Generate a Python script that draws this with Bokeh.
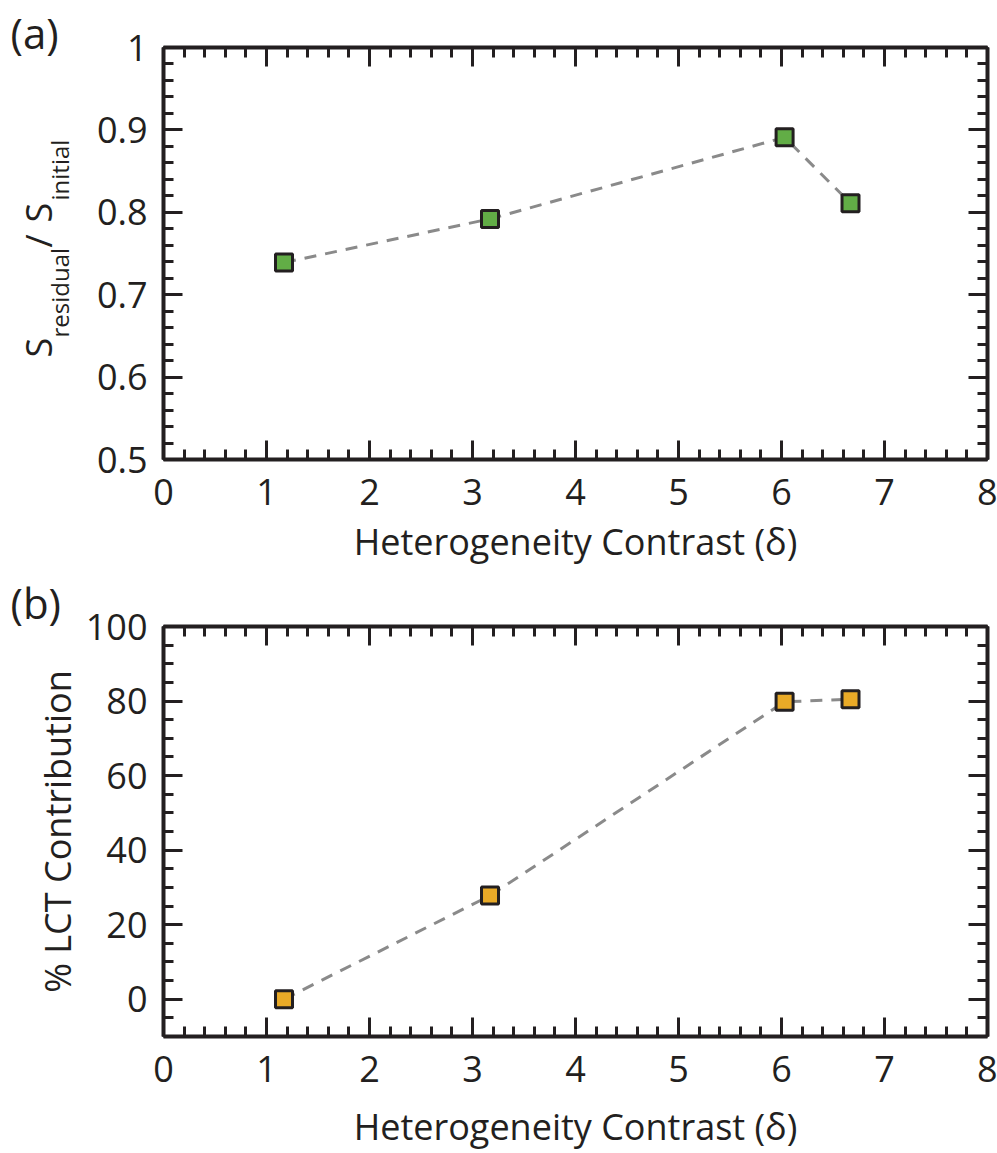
import numpy as np
from bokeh.plotting import figure
from bokeh.layouts import column, row
from bokeh.models import FixedTicker, LinearAxis, Range1d, Label, CustomJSTickFormatter
from bokeh.embed import file_html
from bokeh.resources import INLINE

# ---- data ----
delta = [1.17, 3.17, 6.03, 6.67]
s_ratio = [0.739, 0.792, 0.891, 0.811]
lct_pct = [0.0, 27.8, 79.8, 80.5]

x_major = [0, 1, 2, 3, 4, 5, 6, 7, 8]
a_y_major = [0.5, 0.6, 0.7, 0.8, 0.9, 1.0]
b_y_major = [0, 20, 40, 60, 80, 100]
x_label = "Heterogeneity Contrast (\u03b4)"
b_y_label = "% LCT Contribution"

FONT = "Open Sans"
INK = "#231f20"
GREEN = "#62ad46"
ORANGE = "#e9aa27"
DASH = "#8a8a8a"
TICK_FS = "36px"

STRIP_W = 82
MAIN_W = 997 - STRIP_W
LEFT_B = 163 - STRIP_W

x_minor = [round(v, 2) for v in np.arange(0, 8.001, 0.2)]
a_y_minor = [round(v, 3) for v in np.arange(0.5, 1.0001, 0.02)]
b_y_minor = [float(v) for v in np.arange(-10, 100.001, 5)]


def style(ax, show_labels=True):
    ax.axis_line_width = 4
    ax.axis_line_color = INK
    ax.major_tick_line_width = 3
    ax.minor_tick_line_width = 3
    ax.major_tick_line_color = INK
    ax.minor_tick_line_color = INK
    ax.major_tick_in = 19
    ax.major_tick_out = 0
    ax.minor_tick_in = 10
    ax.minor_tick_out = 0
    ax.major_label_text_font = FONT
    ax.major_label_text_color = INK
    ax.axis_label_text_font = FONT
    ax.axis_label_text_font_style = "normal"
    ax.axis_label_text_color = INK
    ax.axis_label_text_font_size = TICK_FS
    if show_labels:
        ax.major_label_text_font_size = TICK_FS
    else:
        ax.major_label_text_font_size = "1px"
        ax.major_label_standoff = 0
        ax.formatter = CustomJSTickFormatter(code="return ''")


def make_panel(yr, ymaj, ymin, height, top, ys, fill, xl_standoff):
    p = figure(width=MAIN_W, height=height, x_range=Range1d(0, 8), y_range=Range1d(*yr),
               output_backend="svg", toolbar_location=None,
               min_border_left=LEFT_B, min_border_right=10, min_border_top=top,
               min_border_bottom=117, outline_line_color=None,
               x_axis_location=None, y_axis_location=None)
    p.grid.visible = False
    xt = FixedTicker(ticks=x_major, minor_ticks=x_minor)
    yt = FixedTicker(ticks=ymaj, minor_ticks=ymin)
    bottom = LinearAxis(ticker=xt, axis_label=x_label)
    style(bottom)
    bottom.major_label_standoff = 19
    bottom.axis_label_standoff = xl_standoff
    left = LinearAxis(ticker=yt)
    style(left)
    left.major_label_standoff = 16
    above = LinearAxis(ticker=xt)
    style(above, False)
    right = LinearAxis(ticker=yt)
    style(right, False)
    p.add_layout(bottom, "below")
    p.add_layout(left, "left")
    p.add_layout(above, "above")
    p.add_layout(right, "right")
    p.line(delta, ys, line_dash="12 9", line_width=3, line_color=DASH)
    p.scatter(delta, ys, marker="square", size=17, fill_color=fill,
              line_color=INK, line_width=3)
    return p, left


pa, left_a = make_panel((0.5, 1.0), a_y_major, a_y_minor, 576, 47, s_ratio, GREEN, 9)
left_a.major_label_overrides = {1.0: "1"}
pb, left_b = make_panel((-10, 100), b_y_major, b_y_minor, 577, 50, lct_pct, ORANGE, 17)

# ---- left strip holding the panel tags and the y-axis titles ----
strip = figure(width=STRIP_W, height=1153, x_range=Range1d(0, STRIP_W), y_range=Range1d(1153, 0),
               output_backend="svg", toolbar_location=None,
               min_border_left=0, min_border_right=0, min_border_top=0, min_border_bottom=0,
               outline_line_color=None, x_axis_location=None, y_axis_location=None)
strip.grid.visible = False

MID = 0.388  # distance (em) from line-box middle to the baseline


def lab(x, y, text, size_px, angle=0.0, align="left"):
    # (x, y) is the wanted baseline point; text anchored at its middle
    if angle:
        x = x - MID * size_px
    else:
        y = y - MID * size_px
    strip.add_layout(Label(x=x, y=y, text=text, angle=angle, text_font=FONT,
                           text_font_size=f"{size_px}px", text_color=INK,
                           text_align=align, text_baseline="middle"))


lab(10, 48, "(a)", 42)
lab(10, 618, "(b)", 42)
# S_residual / S_initial, reading upward
lab(52, 357, "S", 36, np.pi / 2)
lab(68, 337, "residual", 24, np.pi / 2)
lab(52, 247, "/", 36, np.pi / 2)
lab(52, 222, "S", 36, np.pi / 2)
lab(68, 200, "initial", 24, np.pi / 2)
# y title of panel (b)
lab(71, 831, b_y_label, 36, np.pi / 2, "center")

layout = row(strip, column(pa, pb, spacing=0), spacing=0)
open("out.html", "w").write(file_html(layout, INLINE))
